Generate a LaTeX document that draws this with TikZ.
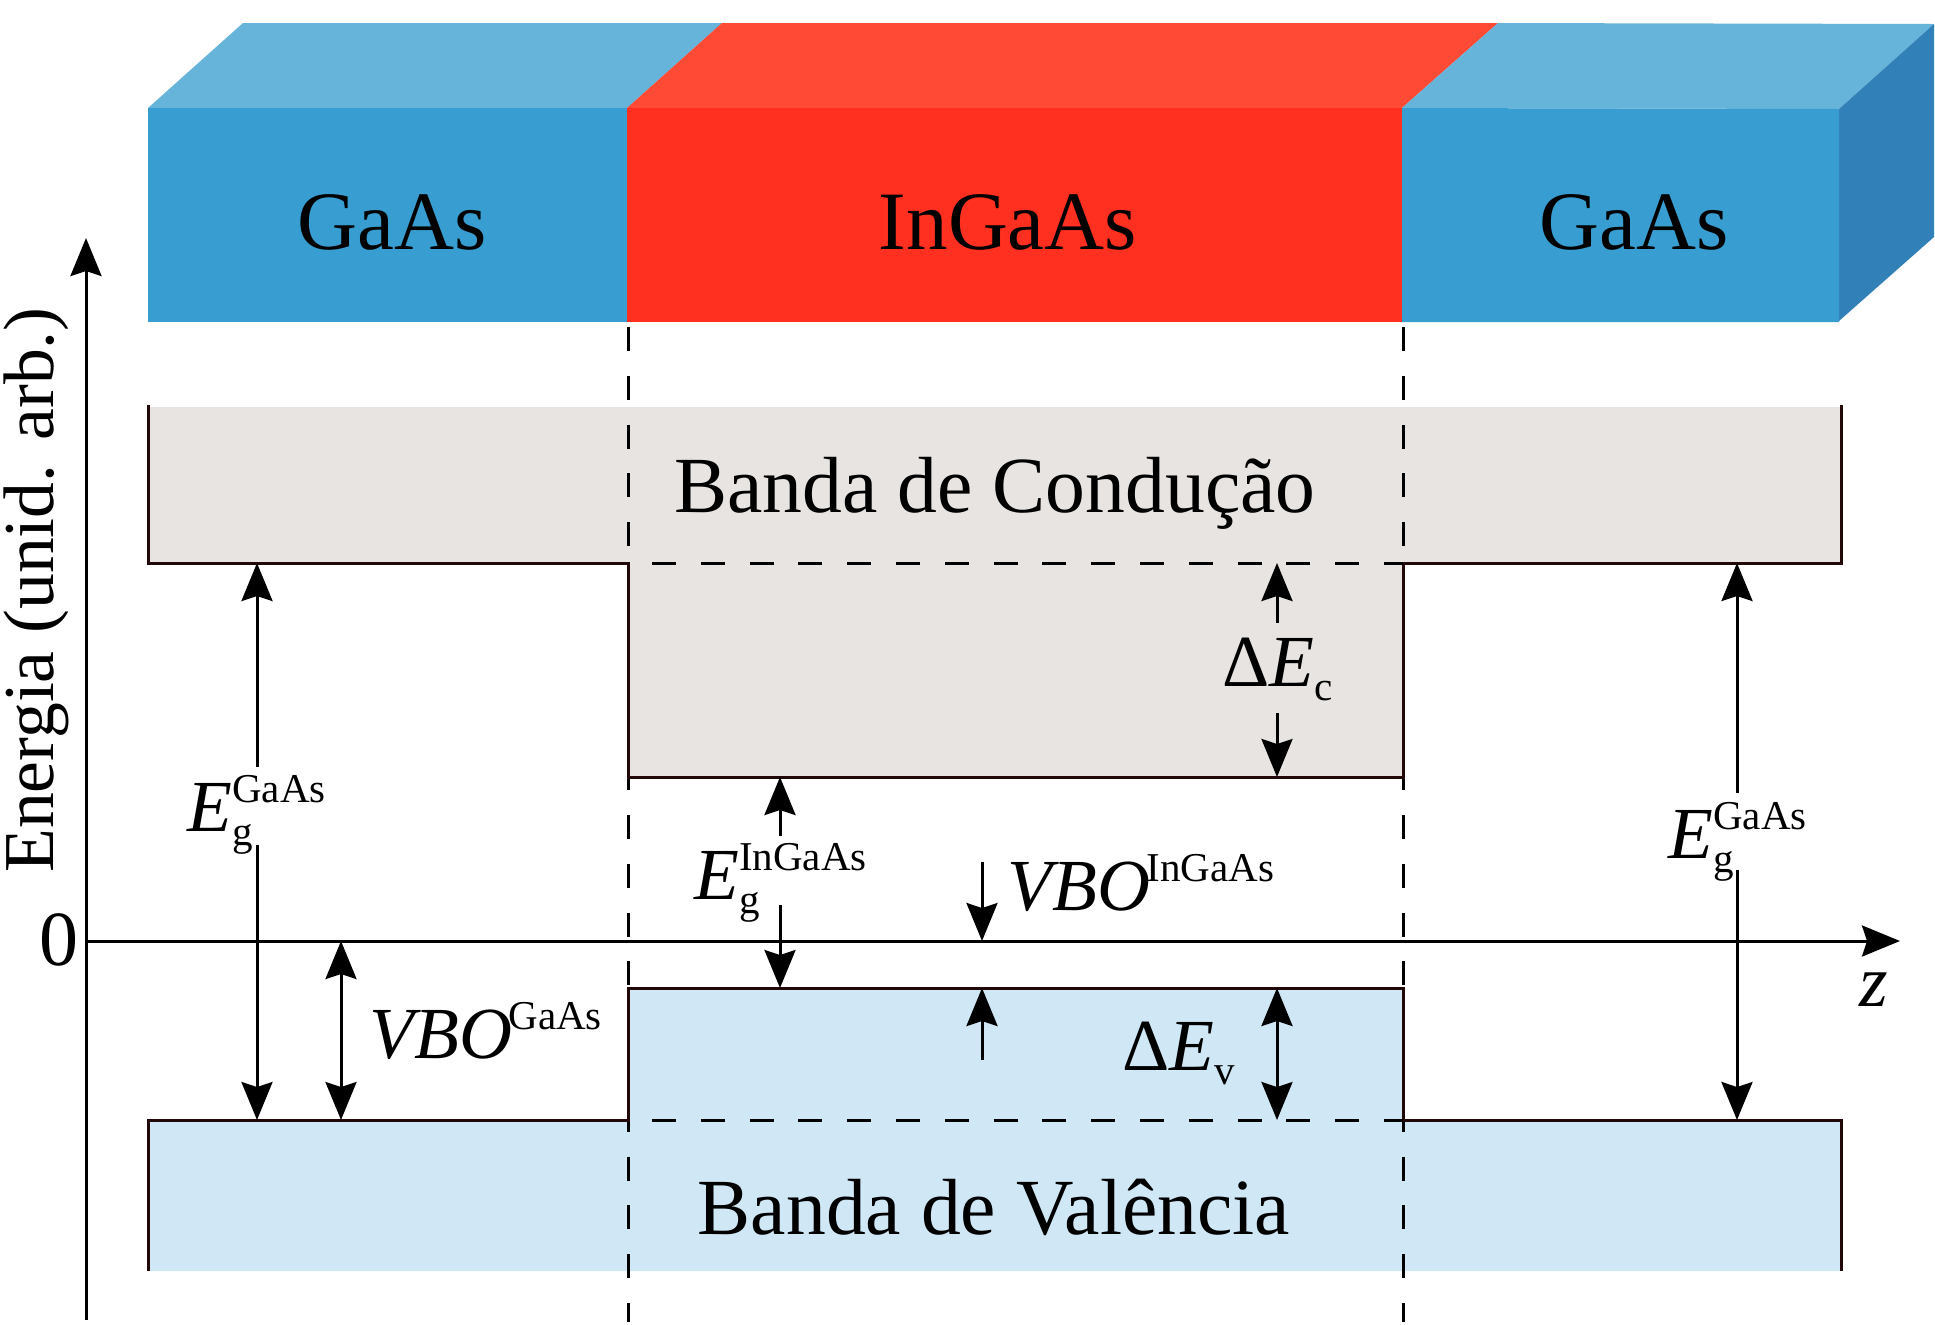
\documentclass[tikz,border=0pt]{standalone}
\usepackage{fontspec}
\setmainfont{Liberation Serif}
\usetikzlibrary{arrows.meta}
\definecolor{blueFront}{HTML}{389ED2}
\definecolor{blueTop}{HTML}{67B4DB}
\definecolor{blueSide}{HTML}{3280B8}
\definecolor{redFront}{HTML}{FF301F}
\definecolor{redTop}{HTML}{FF4A36}
\definecolor{condBand}{HTML}{E7E4E1}
\definecolor{valBand}{HTML}{D0E7F5}
\definecolor{edgeDark}{HTML}{220808}
\newcommand{\fs}[1]{\fontsize{#1}{#1}\selectfont}
\newcommand{\supsub}[2]{\rlap{\raisebox{14.5pt}{\fs{20.5pt}\upshape #1}}\raisebox{-7pt}{\fs{20.5pt}\upshape #2}}
\newcommand{\supon}[1]{\kern-1.8pt\raisebox{14.5pt}{\fs{20.5pt}\upshape #1}}
\newcommand{\subon}[1]{\raisebox{-7pt}{\fs{20.5pt}\upshape #1}}
\tikzset{
  big/.style={inner sep=0pt,anchor=base,font=\fs{41.5pt}},
  title/.style={inner sep=0pt,anchor=base,font=\fs{39.8pt}},
  lab/.style={inner sep=0pt,anchor=base west,font=\fs{36.7pt}},
  edge/.style={draw=edgeDark,line width=1.5pt},
  dashline/.style={black,line width=1.5pt,dash pattern=on 12pt off 12.4pt},
  arr/.style={black,line width=1.5pt,-{Stealth[length=19pt,width=15.5pt,inset=2.5pt]}},
  darr/.style={black,line width=1.5pt,{Stealth[length=19pt,width=15.5pt,inset=2.5pt]}-{Stealth[length=19pt,width=15.5pt,inset=2.5pt]}}
}
\begin{document}
\begin{tikzpicture}[x=0.5pt,y=-0.5pt]
\useasboundingbox (0,0) rectangle (1935,1324);
% block
\fill[blueTop] (148,108) -- (243,23) -- (722,23) -- (627,108) -- cycle;
\fill[redTop] (627,108) -- (722,23) -- (1498,23) -- (1402,108) -- cycle;
\fill[blueTop] (1402,108) -- (1498,23) -- (1934,24) -- (1839,109) -- cycle;
\fill[blueSide] (1839,109) -- (1934,24) -- (1934,237) -- (1839,321) -- cycle;
\fill[blueFront] (148,108) rectangle (627,322);
\fill[redFront] (627,108) rectangle (1402,322);
\fill[blueFront] (1402,108) -- (1839,109) -- (1839,322) -- (1402,322) -- cycle;
\node[big] (gaasL) at (392,249) {GaAs};
\node[big] (ingaas) at (1008,249) {InGaAs};
\node[big] (gaasR) at (1634,249) {GaAs};
% bands
\fill[condBand] (148,407) -- (1841,407) -- (1841,563) -- (1403,563) -- (1403,777) -- (628,777) -- (628,563) -- (148,563) -- cycle;
\fill[valBand] (148,1120) -- (628,1120) -- (628,988) -- (1403,988) -- (1403,1120) -- (1841,1120) -- (1841,1271) -- (148,1271) -- cycle;
% vertical dashes
\coordinate (dL1) at (628,327); \coordinate (dL2) at (628,1322);
\coordinate (dR1) at (1403,327); \coordinate (dR2) at (1403,1322);
\draw[dashline] (dL1) -- (dL2);
\draw[dashline] (dR1) -- (dR2);
% band edges
\draw[edge] (148,405) -- (148,563) -- (628,563) -- (628,777) -- (1403,777) -- (1403,563) -- (1841,563) -- (1841,405);
\draw[edge] (148,1271) -- (148,1120) -- (628,1120) -- (628,988) -- (1403,988) -- (1403,1120) -- (1841,1120) -- (1841,1271);
\draw[dashline] (652,563) -- (1403,563);
\draw[dashline] (652,1120) -- (1403,1120);
% axes
\coordinate (yB) at (86,1320); \coordinate (yT) at (86,238);
\coordinate (xL) at (86,941); \coordinate (xR) at (1900,941);
\draw[arr] (yB) -- (yT);
\draw[arr] (xL) -- (xR);
\node[inner sep=0pt,anchor=base,rotate=90,font=\fs{35.8pt}] (ylabel) at (54,590) {Energia (unid. arb.)};
\node[inner sep=0pt,anchor=base,font=\fs{39pt}] (zero) at (59,965) {0};
\node[lab,anchor=base] (zlab) at (1874,1006) {\itshape z};
% band labels
\node[title] (cond) at (995,512) {Banda de Condução};
\node[title] (val) at (994,1234) {Banda de Valência};
% Eg GaAs left
\coordinate (a1t) at (257,563); \coordinate (a1s) at (257,767);
\coordinate (a1u) at (257,845); \coordinate (a1b) at (257,1120);
\draw[arr] (a1s) -- (a1t);
\draw[arr] (a1u) -- (a1b);
\node[lab] (egL) at (187,831) {\textit{E}\supsub{GaAs}{g}};
% Eg GaAs right
\coordinate (a2t) at (1737,563); \coordinate (a2s) at (1737,793);
\coordinate (a2u) at (1737,870); \coordinate (a2b) at (1737,1120);
\draw[arr] (a2s) -- (a2t);
\draw[arr] (a2u) -- (a2b);
\node[lab] (egR) at (1668,858) {\textit{E}\supsub{GaAs}{g}};
% Delta Ec
\coordinate (a3t) at (1277,563); \coordinate (a3s) at (1277,623);
\coordinate (a3u) at (1277,713); \coordinate (a3b) at (1277,777);
\draw[arr] (a3s) -- (a3t);
\draw[arr] (a3u) -- (a3b);
\node[lab] (dEc) at (1222,686) {Δ\textit{E}\subon{c}};
% Eg InGaAs
\coordinate (a4t) at (780,777); \coordinate (a4s) at (780,836);
\coordinate (a4u) at (780,905); \coordinate (a4b) at (780,988);
\draw[arr] (a4s) -- (a4t);
\draw[arr] (a4u) -- (a4b);
\node[lab] (egI) at (694,899) {\textit{E}\supsub{InGaAs}{g}};
% VBO InGaAs
\coordinate (a5t) at (982,862); \coordinate (a5s) at (982,941);
\coordinate (a5u) at (982,1060); \coordinate (a5b) at (982,988);
\draw[arr] (a5t) -- (a5s);
\draw[arr] (a5u) -- (a5b);
\node[lab] (vboI) at (1007,910) {\textit{VBO}\supon{InGaAs}};
% Delta Ev
\coordinate (a6t) at (1277,988); \coordinate (a6b) at (1277,1120);
\draw[darr] (a6t) -- (a6b);
\node[lab] (dEv) at (1122,1070) {Δ\textit{E}\subon{v}};
% VBO GaAs
\coordinate (a7t) at (341,941); \coordinate (a7b) at (341,1120);
\draw[darr] (a7t) -- (a7b);
\node[lab] (vboG) at (369,1058) {\textit{VBO}\supon{GaAs}};
\end{tikzpicture}
\end{document}
